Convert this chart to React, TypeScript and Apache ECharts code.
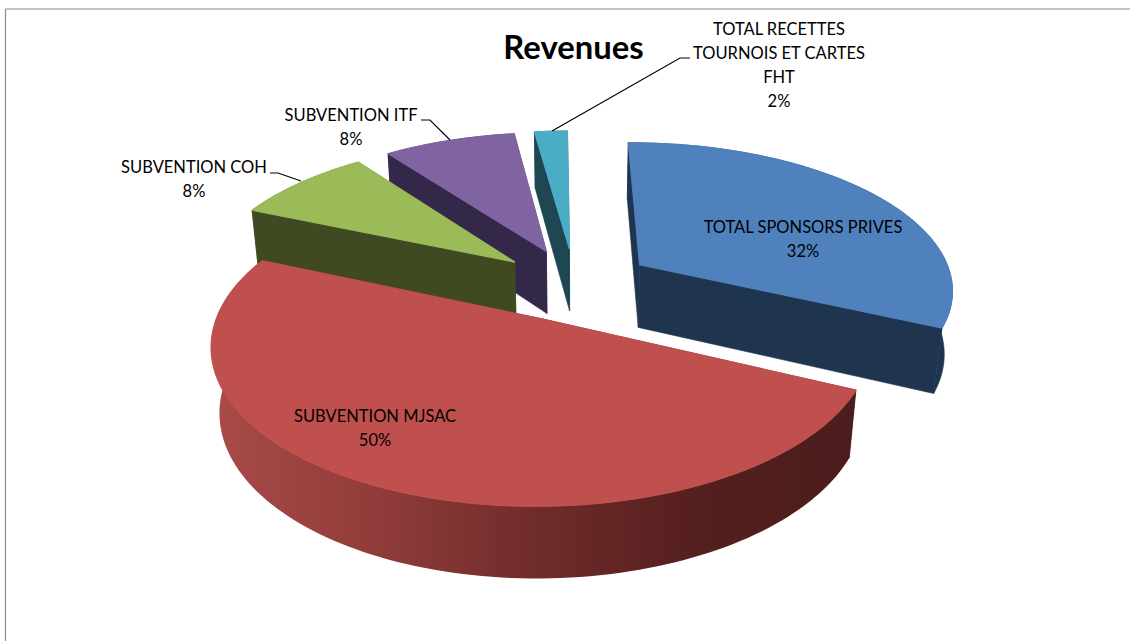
import React, { useEffect, useRef } from "react";
import * as echarts from "echarts";

const names = [
  "TOTAL SPONSORS PRIVES",
  "SUBVENTION MJSAC",
  "SUBVENTION COH",
  "SUBVENTION ITF",
  "TOTAL RECETTES\nTOURNOIS ET CARTES\nFHT",
];
const values = [32.1, 49.5, 8.4, 8.0, 2];
const title = "Revenues";

const topColors = ["#4f81bd", "#c0504d", "#9bbb59", "#8064a2", "#4bacc6"];
const sideColors = ["#1f344e", "#4a1d1c", "#3f4a22", "#33274a", "#1e4653"];
const drawOrder = [4, 3, 2, 0, 1];

// camera model of the tilted pie
const X0 = 575, Y0 = 284.2, A = 314, B = 146.4, H = 64.9, K = 0.155, M = 0.022, EXPLODE = 0.25, ROT = -0.6;
const FONT = "Lato";

const project = (x: number, y: number, d: number) => {
  const s = 1 / (1 + K * y + M * d);
  return [X0 + A * x * s, Y0 + (-B * y + H * d) * s];
};

const total = values.reduce((a, b) => a + b, 0);
const rad = (deg: number) => (deg * Math.PI) / 180;

function sliceAngles(i: number) {
  let before = 0;
  for (let k = 0; k < i; k++) before += values[k];
  return [ROT + (before / total) * 360, ROT + ((before + values[i]) / total) * 360];
}

function renderSlice(params: any, api: any) {
  const i = drawOrder[params.dataIndex];
  const [a0, a1] = sliceAngles(i);
  const mid = rad((a0 + a1) / 2);
  const cx = EXPLODE * Math.sin(mid);
  const cy = EXPLODE * Math.cos(mid);
  const n = Math.max(12, Math.round((a1 - a0) / 1.5));
  const rim = (d: number) => {
    const pts: number[][] = [];
    for (let k = 0; k <= n; k++) {
      const t = rad(a0 + ((a1 - a0) * k) / n);
      pts.push(project(cx + Math.sin(t), cy + Math.cos(t), d));
    }
    return pts;
  };
  const top = rim(0);
  const bottom = rim(1);
  const apexTop = project(cx, cy, 0);
  const apexBottom = project(cx, cy, 1);
  const side = sideColors[i];
  const wallFill: any =
    i === 1
      ? new echarts.graphic.LinearGradient(0, 0, 1, 0, [
          { offset: 0, color: "#a94b49" },
          { offset: 0.25, color: "#913c3a" },
          { offset: 0.5, color: "#702c2b" },
          { offset: 0.75, color: "#541f1e" },
          { offset: 1, color: "#4a1d1c" },
        ])
      : side;
  const poly = (points: number[][], fill: any, stroke: any = null, lineWidth = 0.6) => ({
    type: "polygon",
    shape: { points },
    style: { fill, stroke, lineWidth: stroke ? lineWidth : 0 },
  });
  return {
    type: "group",
    children: [
      poly([top[0], apexTop, apexBottom, bottom[0]], side, side),
      poly([top[n], apexTop, apexBottom, bottom[n]], side, side),
      poly([...top, ...bottom.slice().reverse()], wallFill, i === 1 ? null : side),
      poly([apexTop, ...top], topColors[i], topColors[i], 1.2),
    ],
  };
}

const labelPositions = [
  [803, 226.5],
  [375, 415.5],
  [194, 166.5],
  [351, 114.5],
  [779, 28.5],
];
const leaderLines = [
  [[552, 131], [680, 58], [690, 58]],
  [[450, 140], [430, 120], [421, 120]],
  [[301, 181], [278, 173], [270, 173]],
];

export default function App() {
  const ref = useRef<HTMLDivElement>(null);
  useEffect(() => {
    if (!ref.current) return;
    const chart = echarts.init(ref.current, undefined, { renderer: "svg" });
    const labels = names.map((name, i) => ({
      type: "text",
      x: labelPositions[i][0],
      y: labelPositions[i][1] - 12,
      z: 10,
      style: {
        text: `${name}\n${Math.round(values[i])}%`,
        fill: "#000000",
        font: `16.5px ${FONT}`,
        lineHeight: 24,
        align: "center",
        verticalAlign: "top",
      },
    }));
    const leaders = leaderLines.map((points) => ({
      type: "polyline",
      z: 9,
      shape: { points },
      style: { stroke: "#000000", lineWidth: 1.2, fill: null },
    }));
    chart.setOption({
      animation: false,
      backgroundColor: "#ffffff",
      title: {
        text: title,
        left: 568.5,
        top: 25,
        textAlign: "center",
        textStyle: { fontFamily: FONT, fontWeight: "bold", fontSize: 32.8, color: "#000000" },
      },
      graphic: [
        { type: "line", shape: { x1: 5.5, y1: 9, x2: 1130, y2: 9 }, style: { stroke: "#8a8a8a", lineWidth: 1.2 } },
        { type: "line", shape: { x1: 5.5, y1: 9, x2: 5.5, y2: 641 }, style: { stroke: "#8a8a8a", lineWidth: 1.2 } },
        ...leaders,
        ...labels,
      ],
      series: [
        {
          type: "custom",
          coordinateSystem: "none",
          silent: true,
          renderItem: renderSlice,
          data: drawOrder.map((i) => [values[i]]),
        },
      ],
    });
    return () => chart.dispose();
  }, []);
  return <div ref={ref} style={{ position: "fixed", left: 0, top: 0, width: 1130, height: 641 }} />;
}
